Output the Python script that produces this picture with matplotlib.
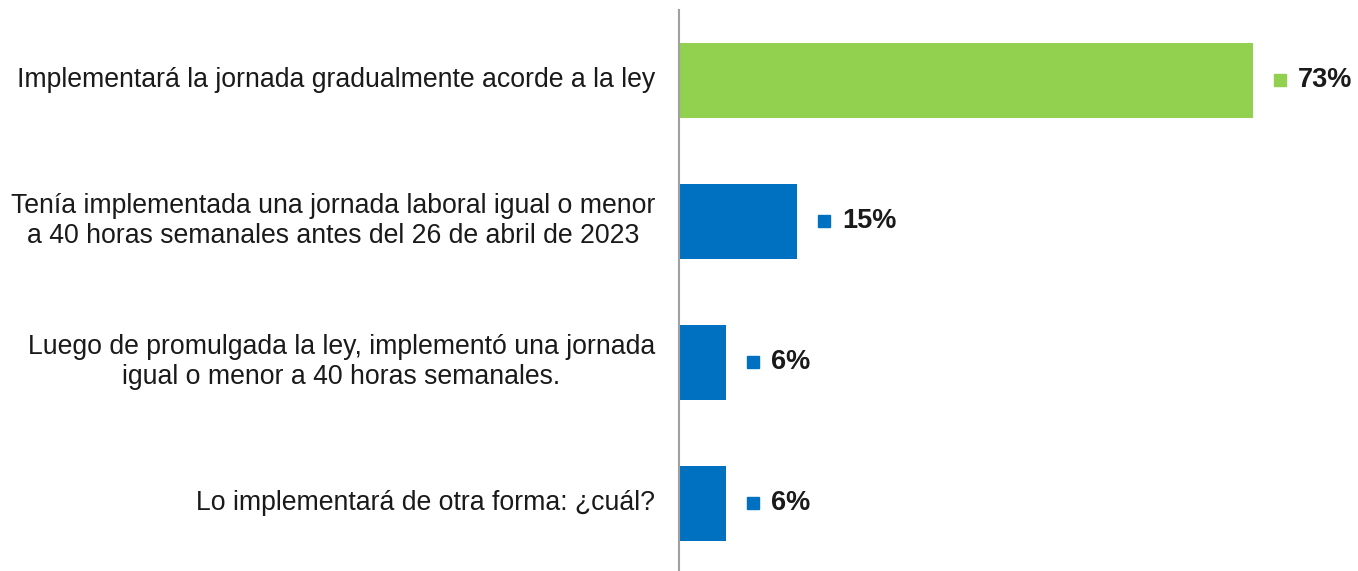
import matplotlib.pyplot as plt

plt.rcParams['font.family'] = ['Liberation Sans', 'DejaVu Sans']

categorias = [
    'Implementará la jornada gradualmente acorde a la ley',
    'Tenía implementada una jornada laboral igual o menor\na 40 horas semanales antes del 26 de abril de 2023',
    'Luego de promulgada la ley, implementó una jornada\nigual o menor a 40 horas semanales.',
    'Lo implementará de otra forma: ¿cuál?',
]
valores = [73, 15, 6, 6]
etiquetas = ['73%', '15%', '6%', '6%']
colores = ['#92D050', '#0070C0', '#0070C0', '#0070C0']

fig = plt.figure(figsize=(13.58, 5.71), dpi=100)
ax = fig.add_axes([679 / 1358, 0, 1 - 679 / 1358, 561 / 571])

pos = range(len(valores))
ax.barh(pos, valores, height=0.53, color=colores)
ax.set_xlim(0, 86.35)
ax.set_ylim(3.48, -0.5)

# px per percent
ppx = (1358 - 679) / 86.35
for i, (v, e, c) in enumerate(zip(valores, etiquetas, colores)):
    ax.plot(v + 27 / ppx, i, marker='s', ms=8, color=c, clip_on=False)
    ax.text(v + 45 / ppx, i, e, va='center', ha='left', fontsize=19.5,
            fontweight='bold', color='#1a1a1a')
    ax.text(-24 / ppx, i, categorias[i], va='center', ha='right',
            multialignment='center', fontsize=19.2, color='#1a1a1a',
            linespacing=1.2)

for s in ['top', 'right', 'bottom']:
    ax.spines[s].set_visible(False)
ax.spines['left'].set_color('#A0A0A0')
ax.spines['left'].set_linewidth(1.5)
ax.set_xticks([])
ax.set_yticks([])

fig.savefig('out.png', dpi=100)
